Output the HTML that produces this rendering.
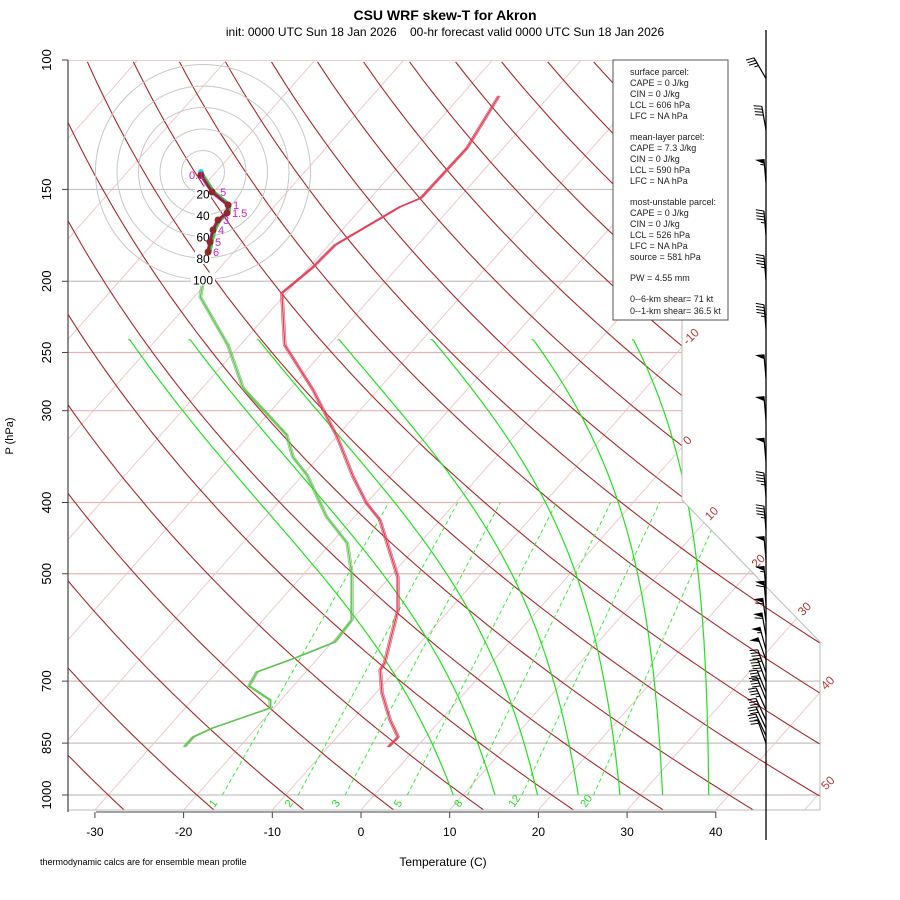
<!DOCTYPE html>
<html><head><meta charset="utf-8"><style>
html,body{margin:0;padding:0;background:#fff}
svg{display:block;font-family:"Liberation Sans",Arial,sans-serif}
</style></head><body>
<svg id="c" width="900" height="900" viewBox="0 0 900 900" xmlns="http://www.w3.org/2000/svg">
<defs><clipPath id="plotclip"><polygon points="68,60 682,60 682,500 820,642 820,810 68,810"/></clipPath></defs>
<rect width="900" height="900" fill="#fff"/>
<text x="445" y="20" text-anchor="middle" font-size="14" font-weight="bold">CSU WRF skew-T for Akron</text>
<text x="445" y="36" text-anchor="middle" font-size="12" xml:space="preserve">init: 0000 UTC Sun 18 Jan 2026&#160;&#160;&#160;&#160;00-hr forecast valid 0000 UTC Sun 18 Jan 2026</text>
<g id="grid" clip-path="url(#plotclip)"></g>
<g id="profiles"></g>
<g id="axes"></g>
<g id="hodo"></g>
<g id="winds"></g>
<g font-size="9" fill="#222">
<rect x="613" y="60" width="115" height="260" fill="#fff" stroke="#555" stroke-width="1"/>
<text x="630" y="75">surface parcel:</text>
<text x="630" y="86">CAPE = 0 J/kg</text>
<text x="630" y="97">CIN = 0 J/kg</text>
<text x="630" y="108">LCL = 606 hPa</text>
<text x="630" y="119">LFC = NA hPa</text>
<text x="630" y="140">mean-layer parcel:</text>
<text x="630" y="151">CAPE = 7.3 J/kg</text>
<text x="630" y="162">CIN = 0 J/kg</text>
<text x="630" y="173">LCL = 590 hPa</text>
<text x="630" y="184">LFC = NA hPa</text>
<text x="630" y="205">most-unstable parcel:</text>
<text x="630" y="216">CAPE = 0 J/kg</text>
<text x="630" y="227">CIN = 0 J/kg</text>
<text x="630" y="238">LCL = 526 hPa</text>
<text x="630" y="249">LFC = NA hPa</text>
<text x="630" y="260">source = 581 hPa</text>
<text x="630" y="281">PW =  4.55 mm</text>
<text x="630" y="302">0--6-km shear= 71 kt</text>
<text x="630" y="314">0--1-km shear= 36.5 kt</text>
</g>
<text x="443" y="866" text-anchor="middle" font-size="12">Temperature (C)</text>
<text x="40" y="865" font-size="9">thermodynamic calcs are for ensemble mean profile</text>
<text transform="translate(13,436) rotate(-90)" text-anchor="middle" font-size="11">P (hPa)</text>
</svg>
<script>
// ---- data ----
const pressureTicks=[100,150,200,250,300,400,500,700,850,1000];
const tempTicks=[-30,-20,-10,0,10,20,30,40];
const isothermLabels=[-10,0,10,20,30,40,50];
const mixingRatios=[1,2,3,5,8,12,20];
const moistBottomT=[8.9,13.6,18.4,23.0,27.7,32.5,37.7];
const moistTopT=[-73.2,-66.4,-58.7,-49.6,-39.1,-27.7,-16.4];
const tempP=[111.9,131.7,154.1,158.5,178.5,191.9,207.5,244.2,281.2,325.8,369.3,400.7,422.6,483.4,505.1,560.1,661.4,676.1,726.6,790.6,833.8,860.5];
const tempT=[-55.7,-54.1,-54.3,-55.8,-59.3,-59.6,-60.5,-55.0,-47.3,-39.9,-34.1,-30.0,-26.8,-21.0,-19.1,-15.8,-12.0,-11.8,-9.3,-5.7,-3.1,-3.2];
const dewP=[201.1,210.1,244.2,279.4,323.7,346.8,367.0,418.6,454.1,498.8,577.9,619.3,651.0,680.3,710.8,742.6,761.5,810.7,833.8,860.5];
const dewT=[-70.4,-69.3,-61.4,-55.4,-45.8,-42.9,-39.5,-33.1,-28.2,-24.7,-20.0,-19.7,-22.6,-25.5,-25.0,-21.2,-20.4,-24.9,-26.2,-26.2];
const hodoU=[-1.9,8.4,23.3,22.3,14,9.3,6.5,4.7];
const hodoV=[-2.8,-18.6,-30.7,-38.1,-44.6,-53.9,-65.1,-74.4];
const hodoLabels=["0.1",".5","1","1.5","3","4","5","6"];
const hodoRings=[20,40,60,80,100];
const windP=[106,124.5,147,173,199,232,271,309,352,393,436,479,526,551,581,608,635,655,681,702,725,742,766,791,812,831,850];
const windSpd=[35,40,55,45,45,45,50,50,50,45,45,50,55,60,60,60,55,50,45,45,40,40,35,35,30,25,20];
const windDir=[330,350,355,355,355,355,355,355,355,355,355,355,355,355,352,350,345,340,340,340,338,338,336,335,335,335,340];

// ---- scales ----
const NS='http://www.w3.org/2000/svg';
function yP(p){return 60+319.2*Math.log(p/100);}
function xTP(T,p){return 361+8.87*T+0.885*(810-yP(p));}
function mk(tag,attrs,parent){const e=document.createElementNS(NS,tag);for(const k in attrs)e.setAttribute(k,attrs[k]);parent.appendChild(e);return e;}
function pathFrom(pts){return pts.map((q,i)=>(i?'L':'M')+q[0].toFixed(1)+' '+q[1].toFixed(1)).join(' ');}
const grid=document.getElementById('grid'),prof=document.getElementById('profiles'),axes=document.getElementById('axes'),hodo=document.getElementById('hodo'),winds=document.getElementById('winds');

pressureTicks.forEach(p=>{
  const grey=[150,200,700,850,1000].includes(p);
  const l=mk('line',{x1:68,x2:820,y1:yP(p),y2:yP(p),stroke:grey?'#c8c0c0':'#e2b4b4','stroke-width':1.2},grid);
  
  
});
for(let T=-150;T<=60;T+=10){
  const l=mk('line',{x1:xTP(T,1050),y1:yP(1050),x2:xTP(T,100),y2:yP(100),stroke:'#ebc4c4','stroke-width':0.9},grid);
  
  
}
for(let th=-40;th<=260;th+=10){
  const pts=[];
  for(let p=1050;p>=99;p*=0.97){pts.push([xTP((th+273.15)*Math.pow(p/1000,0.2857)-273.15,p),yP(p)]);}
  const e=mk('path',{d:pathFrom(pts),fill:'none',stroke:'#a52a2a','stroke-width':1.1},grid);
  
  
}
function tdFromW(w,p){const e=(w/1000)*p/(0.622+w/1000);const a=Math.log(e/6.112);return 243.5*a/(17.67-a);}
mixingRatios.forEach(w=>{
  const e=mk('line',{x1:xTP(tdFromW(w,1000),1000),y1:yP(1000),x2:xTP(tdFromW(w,400),400),y2:yP(400),stroke:'#33ee33','stroke-width':1,'stroke-dasharray':'4,3'},grid);
  
  
});
function es(Tc){return 6.112*Math.exp(17.67*Tc/(Tc+243.5));}
function moist(T0,k){
  let T=T0+273.15,lp=Math.log(1000);const pts=[];const end=Math.log(240);const h=-0.005;
  while(lp>end){
    const p=Math.exp(lp);
    pts.push([xTP(T-273.15,p),yP(p)]);
    const e=es(T-273.15),rs=k*0.622*e/(p-e);
    const dT=(287*T+2.5e6*rs)/(1005+2.5e6*2.5e6*rs*0.622/(287*T*T));
    T+=dT*h;lp+=h;
  }
  pts.push([xTP(T-273.15,240),yP(240)]);
  return {pts:pts,top:T-273.15};
}
moistBottomT.forEach((T0,i)=>{
  let lo=0,hi=3;
  for(let it=0;it<30;it++){const m=(lo+hi)/2;if(moist(T0,m).top<moistTopT[i])lo=m;else hi=m;}
  const r=moist(T0,(lo+hi)/2);
  const e=mk('path',{d:pathFrom(r.pts),fill:'none',stroke:'#22e022','stroke-width':1.2},grid);
  
  
});
const b=mk('polyline',{points:'682,60 682,500 820,642 820,810 68,810',fill:'none',stroke:'#bbb','stroke-width':1},axes);


mk('line',{x1:68,y1:60,x2:68,y2:812,stroke:'#444','stroke-width':1.2},axes);
mk('line',{x1:96,y1:812,x2:716,y2:812,stroke:'#444','stroke-width':1},axes);
pressureTicks.forEach(p=>{
  mk('line',{x1:62,x2:68,y1:yP(p),y2:yP(p),stroke:'#444'},axes);
  const t=mk('text',{transform:`translate(51,${yP(p)}) rotate(-90)`,'text-anchor':'middle','font-size':13},axes);
  t.textContent=p;
  
  
});
tempTicks.forEach(T=>{
  const x=361+8.87*T;
  mk('line',{x1:x,x2:x,y1:812,y2:818,stroke:'#444'},axes);
  const t=mk('text',{x:x,y:836,'text-anchor':'middle','font-size':12},axes);
  t.textContent=T;
  
  
});
function boundX(y){return y<=500?682:(y<=642?682+(y-500)*138/142:820);}
isothermLabels.forEach(T=>{
  let y=810;for(let yy=60;yy<=810;yy+=0.5){const x=361+8.87*T+0.885*(810-yy);if(x<=boundX(yy)){y=yy;break;}}
  const x=361+8.87*T+0.885*(810-y);
  const t=mk('text',{transform:`translate(${x+6},${y-2}) rotate(-45)`,'font-size':12,fill:'#b03a3a'},axes);
  t.textContent=T;
  
  
});
mixingRatios.forEach(w=>{
  const x=xTP(tdFromW(w,1000),1000);
  const t=mk('text',{transform:`translate(${x-8},${808}) rotate(-55)`,'font-size':11,fill:'#22dd22'},axes);
  t.textContent=w;
  
  
});
const tpts=tempP.map((p,i)=>[xTP(tempT[i],p),yP(p)]);
const dpts=dewP.map((p,i)=>[xTP(dewT[i],p),yP(p)]);
[[-1.5,0.6],[1.5,0.6],[0,1.4]].forEach(o=>{
  const e=mk('path',{d:pathFrom(tpts),transform:`translate(${o[0]},0)`,fill:'none',stroke:'#e0425a','stroke-width':o[1]},prof);
  
  
  const f=mk('path',{d:pathFrom(dpts),transform:`translate(${o[0]},0)`,fill:'none',stroke:'#62c454','stroke-width':o[1]},prof);
  
  
});
const hx=203,hy=172,ks=21.5/20;
hodoRings.forEach(r=>{
  const c=mk('circle',{cx:hx,cy:hy,r:r*ks,fill:'none',stroke:'#c8c8c8','stroke-width':1},hodo);
  
  
});
hodoRings.forEach(r=>{
  mk('rect',{x:hx-(r>=100?12:8),y:hy+r*ks-7,width:r>=100?24:16,height:13,fill:'#fff'},hodo);
  const t=mk('text',{x:hx,y:hy+r*ks+5,'text-anchor':'middle','font-size':12},hodo);
  t.textContent=r;
  
  
});
const hp=hodoU.map((u,i)=>[hx+u*ks,hy-hodoV[i]*ks]);
mk('path',{d:pathFrom(hp),transform:'translate(1.5,0)',fill:'none',stroke:'#22dd22','stroke-width':4},hodo);
mk('path',{d:pathFrom(hp),fill:'none',stroke:'#dd22dd','stroke-width':3.5},hodo);
const hl=mk('path',{d:pathFrom(hp),fill:'none',stroke:'#8b2a2a','stroke-width':2.2},hodo);


mk('circle',{cx:hp[0][0],cy:hp[0][1]-3,r:3,fill:'#22dddd'},hodo);
hp.forEach((q,i)=>{
  const c=mk('circle',{cx:q[0],cy:q[1],r:3.5,fill:'#8b2a2a'},hodo);
  
  
  const t=mk('text',{x:q[0]+(i===0?-12:5),y:q[1]+4,'font-size':11,fill:'#cc22cc'},hodo);
  t.textContent=hodoLabels[i];
  
  
});
mk('line',{x1:766,y1:30,x2:766,y2:840,stroke:'#000','stroke-width':1.3},winds);
windP.forEach((p,i)=>{
  const bx=766,by=yP(p),d=windDir[i]*Math.PI/180;
  const sx=Math.sin(d),sy=-Math.cos(d),L=24;
  const tx=bx+sx*L,ty=by+sy*L;
  const px=sy,py=-sx;
  const g=mk('g',{},winds);
  
  
  mk('line',{x1:bx,y1:by,x2:tx,y2:ty,stroke:'#000','stroke-width':1.2},g);
  let s=Math.round(windSpd[i]/5)*5,pos=0;
  while(s>=50){
    const ax=tx-sx*pos,ay=ty-sy*pos,cx=tx-sx*(pos+5),cy=ty-sy*(pos+5);
    mk('polygon',{points:`${ax},${ay} ${ax+px*9},${ay+py*9} ${cx},${cy}`,fill:'#000'},g);
    s-=50;pos+=6;
  }
  while(s>=10){
    const ax=tx-sx*pos,ay=ty-sy*pos;
    mk('line',{x1:ax,y1:ay,x2:ax+px*8+sx*2,y2:ay+py*8+sy*2,stroke:'#000','stroke-width':1},g);
    s-=10;pos+=3;
  }
  if(s>=5){const ax=tx-sx*pos,ay=ty-sy*pos;mk('line',{x1:ax,y1:ay,x2:ax+px*4+sx*1,y2:ay+py*4+sy*1,stroke:'#000','stroke-width':1},g);}
});
</script>
</body></html>
